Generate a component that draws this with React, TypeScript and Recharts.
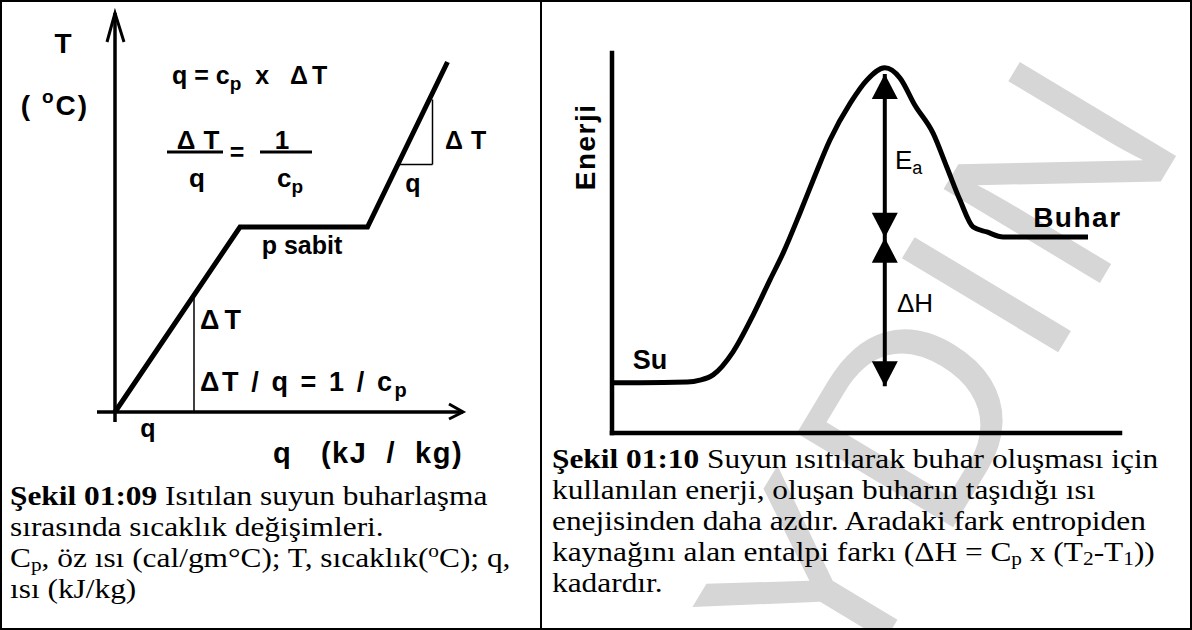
import React from 'react';
import { ComposedChart, Line, XAxis, YAxis, ReferenceLine, ReferenceDot } from 'recharts';

// Şekil 01:09 — sıcaklık / ısı eğrisi (şematik birimler)
const heatQ = [0, 50, 101, 133];
const heatT = [0, 74, 74, 140];
const lowStepQ = 31.6;
const lowStepT = 45.6;
const triQ = [113, 127];
const triT = [99, 125];

// Şekil 01:10 — enerji profili
const pathX = [0, 5.5, 14.8, 17.3, 19.9, 23.8, 27.8, 31.1, 33.7, 37.0, 40.0, 42.9, 46.9, 50.2, 53.7, 56.7, 59.6, 63.2, 65.9, 68.5, 71.1, 73.8, 77.0, 93.7];
const pathE = [13.2, 13.2, 13.4, 13.9, 15.3, 21.3, 31.1, 40.3, 47.4, 57.9, 67.9, 77.1, 86.8, 92.9, 96.1, 93.4, 86.3, 78.9, 70.0, 61.3, 54.2, 52.9, 51.6, 51.6];
const arrowX = 53.7;
const arrowLevels = [94.5, 51.4, 12.3]; // Ea üstü, buluşma, ΔH altı

const heatData = heatQ.map((q, i) => ({ q, T: heatT[i] }));
const energyData = pathX.map((x, i) => ({ x, y: pathE[i] }));

const SANS = "'Liberation Sans', Arial, sans-serif";
const SERIF = "'Liberation Serif', 'Times New Roman', serif";

const sub = (t: string, size = 19, dy = 8) => [
  <tspan key="a" dy={dy} fontSize={size}>{t}</tspan>,
  <tspan key="b" dy={-dy}>{'\u200b'}</tspan>,
];
const dT = (gap = 8) => [
  <tspan key="d">Δ</tspan>,
  <tspan key="t" dx={gap}>T</tspan>,
];

function label(content: React.ReactNode, opts: any = {}) {
  const { anchor = 'start', size = 25, weight = 700, rotate = 0, ls = 0 } = opts;
  return (p: any) => (
    <text
      x={p.cx}
      y={p.cy}
      textAnchor={anchor}
      dominantBaseline="central"
      fontFamily={SANS}
      fontSize={size}
      fontWeight={weight}
      letterSpacing={ls}
      fill="#000"
      xmlSpace="preserve"
      transform={rotate ? `rotate(${rotate} ${p.cx} ${p.cy})` : undefined}
    >
      {content}
    </text>
  );
}

const openArrowUp = (p: any) => (
  <polyline points={`${p.cx - 8},${p.cy + 29} ${p.cx},${p.cy} ${p.cx + 9},${p.cy + 29}`} fill="none" stroke="#000" strokeWidth={3} />
);
const openArrowRight = (p: any) => (
  <polyline points={`${p.cx - 14},${p.cy - 8} ${p.cx},${p.cy} ${p.cx - 14},${p.cy + 7}`} fill="none" stroke="#000" strokeWidth={3} />
);
const headUp = (p: any) => (
  <polygon points={`${p.cx},${p.cy} ${p.cx - 13},${p.cy + 25} ${p.cx + 13},${p.cy + 25}`} fill="#000" />
);
const headDown = (p: any) => (
  <polygon points={`${p.cx},${p.cy} ${p.cx - 13},${p.cy - 25} ${p.cx + 13},${p.cy - 25}`} fill="#000" />
);

function HeatChart() {
  return (
    <ComposedChart width={541} height={470} data={heatData} margin={{ top: 0, right: 0, bottom: 0, left: 0 }}>
      <XAxis type="number" dataKey="q" domain={[-46, 170.4]} hide allowDataOverflow />
      <YAxis type="number" domain={[-23.2, 164.8]} hide allowDataOverflow />
      {/* eksenler */}
      <ReferenceLine segment={[{ x: 0, y: 159.6 }, { x: 0, y: -4 }]} stroke="#000" strokeWidth={3.5} ifOverflow="visible" />
      <ReferenceLine segment={[{ x: -7.2, y: 0 }, { x: 139.2, y: 0 }]} stroke="#000" strokeWidth={3.5} ifOverflow="visible" />
      <ReferenceDot x={0} y={159.6} r={0} ifOverflow="visible" shape={openArrowUp} />
      <ReferenceDot x={139.2} y={0} r={0} ifOverflow="visible" shape={openArrowRight} />
      {/* ΔT / q üçgenleri */}
      <ReferenceLine segment={[{ x: lowStepQ, y: lowStepT }, { x: lowStepQ, y: 0 }]} stroke="#000" strokeWidth={1.5} ifOverflow="visible" />
      <ReferenceLine segment={[{ x: triQ[0], y: triT[0] }, { x: triQ[1], y: triT[0] }]} stroke="#000" strokeWidth={1.5} ifOverflow="visible" />
      <ReferenceLine segment={[{ x: triQ[1], y: triT[0] }, { x: triQ[1], y: triT[1] }]} stroke="#000" strokeWidth={1.5} ifOverflow="visible" />
      {/* kesir çizgileri */}
      <ReferenceLine segment={[{ x: 20.8, y: 104 }, { x: 43.2, y: 104 }]} stroke="#000" strokeWidth={3} ifOverflow="visible" />
      <ReferenceLine segment={[{ x: 58, y: 104 }, { x: 78.8, y: 104 }]} stroke="#000" strokeWidth={3} ifOverflow="visible" />
      <Line dataKey="T" type="linear" stroke="#000" strokeWidth={5} dot={false} activeDot={false} isAnimationActive={false} />
      <ReferenceDot x={-20.8} y={147.6} r={0} ifOverflow="visible" shape={label('T', { anchor: 'middle', size: 28 })} />
      <ReferenceDot x={-24} y={122.8} r={0} ifOverflow="visible" shape={label(<>( <tspan dy={-9} fontSize={19}>o</tspan><tspan dy={9}>C)</tspan></>, { anchor: 'middle', size: 28, ls: 2 })} />
      <ReferenceDot x={22.8} y={134.8} r={0} ifOverflow="visible" shape={label(<>q = c{sub('p')}  x   {dT(4)}</>, { size: 25 })} />
      <ReferenceDot x={33.2} y={108.8} r={0} ifOverflow="visible" shape={label(dT(8), { anchor: 'middle', size: 26 })} />
      <ReferenceDot x={48.8} y={104} r={0} ifOverflow="visible" shape={label('=', { anchor: 'middle', size: 25 })} />
      <ReferenceDot x={66.8} y={108.8} r={0} ifOverflow="visible" shape={label('1', { anchor: 'middle', size: 26 })} />
      <ReferenceDot x={32.8} y={93.6} r={0} ifOverflow="visible" shape={label('q', { anchor: 'middle', size: 26 })} />
      <ReferenceDot x={70} y={93.6} r={0} ifOverflow="visible" shape={label(<>c{sub('p')}</>, { anchor: 'middle', size: 26 })} />
      <ReferenceDot x={74.8} y={66.8} r={0} ifOverflow="visible" shape={label('p sabit', { anchor: 'middle', size: 25 })} />
      <ReferenceDot x={34} y={36.8} r={0} ifOverflow="visible" shape={label(dT(5), { size: 27 })} />
      <ReferenceDot x={34} y={12} r={0} ifOverflow="visible" shape={label(<>ΔT / q = 1 / c{sub('p', 20, 8)}</>, { size: 27, ls: 2.6 })} />
      <ReferenceDot x={13.2} y={-6.4} r={0} ifOverflow="visible" shape={label('q', { anchor: 'middle', size: 25 })} />
      <ReferenceDot x={63.2} y={-16.4} r={0} ifOverflow="visible" shape={label('q   (kJ  /  kg)', { size: 29, ls: 1.5 })} />
      <ReferenceDot x={132} y={108.8} r={0} ifOverflow="visible" shape={label(dT(8), { size: 25 })} />
      <ReferenceDot x={119.2} y={91.6} r={0} ifOverflow="visible" shape={label('q', { anchor: 'middle', size: 25 })} />
    </ComposedChart>
  );
}

function EnergyChart() {
  return (
    <ComposedChart width={648} height={440} data={energyData} margin={{ top: 53, right: 70, bottom: 7, left: 70 }}>
      <XAxis type="number" dataKey="x" domain={[0, 100]} hide allowDataOverflow />
      <YAxis type="number" dataKey="y" domain={[0, 100]} hide allowDataOverflow />
      {/* eksenler */}
      <ReferenceLine segment={[{ x: 0, y: 100 }, { x: 0, y: 0 }]} stroke="#000" strokeWidth={4.5} strokeLinecap="square" ifOverflow="visible" />
      <ReferenceLine segment={[{ x: 0, y: 0 }, { x: 100, y: 0 }]} stroke="#000" strokeWidth={4.5} strokeLinecap="square" ifOverflow="visible" />
      <ReferenceLine segment={[{ x: arrowX, y: arrowLevels[0] }, { x: arrowX, y: arrowLevels[2] }]} stroke="#000" strokeWidth={4} ifOverflow="visible" />
      <ReferenceDot x={arrowX} y={arrowLevels[0]} r={0} ifOverflow="visible" shape={headUp} />
      <ReferenceDot x={arrowX} y={arrowLevels[1]} r={0} ifOverflow="visible" shape={headDown} />
      <ReferenceDot x={arrowX} y={arrowLevels[1]} r={0} ifOverflow="visible" shape={headUp} />
      <ReferenceDot x={arrowX} y={arrowLevels[2]} r={0} ifOverflow="visible" shape={headDown} />
      <Line dataKey="y" type="monotone" stroke="#000" strokeWidth={5} dot={false} activeDot={false} isAnimationActive={false} />
      <ReferenceDot x={-5.3} y={75.3} r={0} ifOverflow="visible" shape={label('Enerji', { anchor: 'middle', size: 28, rotate: -90, ls: 1.5 })} />
      <ReferenceDot x={7.5} y={19.2} r={0} ifOverflow="visible" shape={label('Su', { anchor: 'middle', size: 27 })} />
      <ReferenceDot x={82.9} y={56.8} r={0} ifOverflow="visible" shape={label('Buhar', { size: 28, ls: 1.5 })} />
      <ReferenceDot x={55.7} y={71.8} r={0} ifOverflow="visible" shape={label(<>E{sub('a', 18, 8)}</>, { size: 26, weight: 400 })} />
      <ReferenceDot x={56.1} y={34.2} r={0} ifOverflow="visible" shape={label('ΔH', { size: 26, weight: 400 })} />
    </ComposedChart>
  );
}

const capStyle: React.CSSProperties = {
  position: 'absolute',
  fontFamily: SERIF,
  fontSize: 28,
  lineHeight: '31px',
  whiteSpace: 'nowrap',
  transform: 'scaleX(1.12)',
  transformOrigin: 'left top',
  color: '#000',
};
const Sb = ({ children }: { children: React.ReactNode }) => (
  <span style={{ fontSize: '0.68em', verticalAlign: '-0.22em', lineHeight: 0 }}>{children}</span>
);
const Sp = ({ children }: { children: React.ReactNode }) => (
  <span style={{ fontSize: '0.68em', verticalAlign: '0.5em', lineHeight: 0 }}>{children}</span>
);

export default function App() {
  return (
    <div style={{ position: 'absolute', left: 0, top: 0, width: 1192, height: 630, background: '#fff', overflow: 'hidden' }}>
      <svg width={1192} height={630} style={{ position: 'absolute', left: 0, top: 0 }}>
        <text
          x={976}
          y={489}
          textAnchor="middle"
          fontFamily={SANS}
          fontSize={265}
          letterSpacing={10}
          fill="#d6d6d6"
          transform="rotate(-59 976 489)"
        >
          AYDIN
        </text>
      </svg>
      <div style={{ position: 'absolute', left: 0, top: 0 }}>
        <HeatChart />
      </div>
      <div style={{ position: 'absolute', left: 542, top: 0 }}>
        <EnergyChart />
      </div>
      <div style={{ ...capStyle, left: 10, top: 480 }}>
        <div><b>Şekil 01:09</b> Isıtılan suyun buharlaşma</div>
        <div>sırasında sıcaklık değişimleri.</div>
        <div>C<Sb>p</Sb>, öz ısı (cal/gm°C); T, sıcaklık(<Sp>o</Sp>C); q,</div>
        <div>ısı (kJ/kg)</div>
      </div>
      <div style={{ ...capStyle, left: 552, top: 443 }}>
        <div><b>Şekil 01:10</b> Suyun ısıtılarak buhar oluşması için</div>
        <div>kullanılan enerji, oluşan buharın taşıdığı ısı</div>
        <div>enejisinden daha azdır. Aradaki fark entropiden</div>
        <div>kaynağını alan entalpi farkı (ΔH = C<Sb>p</Sb> x (T<Sb>2</Sb>-T<Sb>1</Sb>))</div>
        <div>kadardır.</div>
      </div>
      <div style={{ position: 'absolute', left: 540, top: 0, width: 2, height: 630, background: '#000' }} />
      <div style={{ position: 'absolute', left: 0, top: 0, width: 1192, height: 630, border: '2px solid #000', boxSizing: 'border-box', pointerEvents: 'none' }} />
    </div>
  );
}
